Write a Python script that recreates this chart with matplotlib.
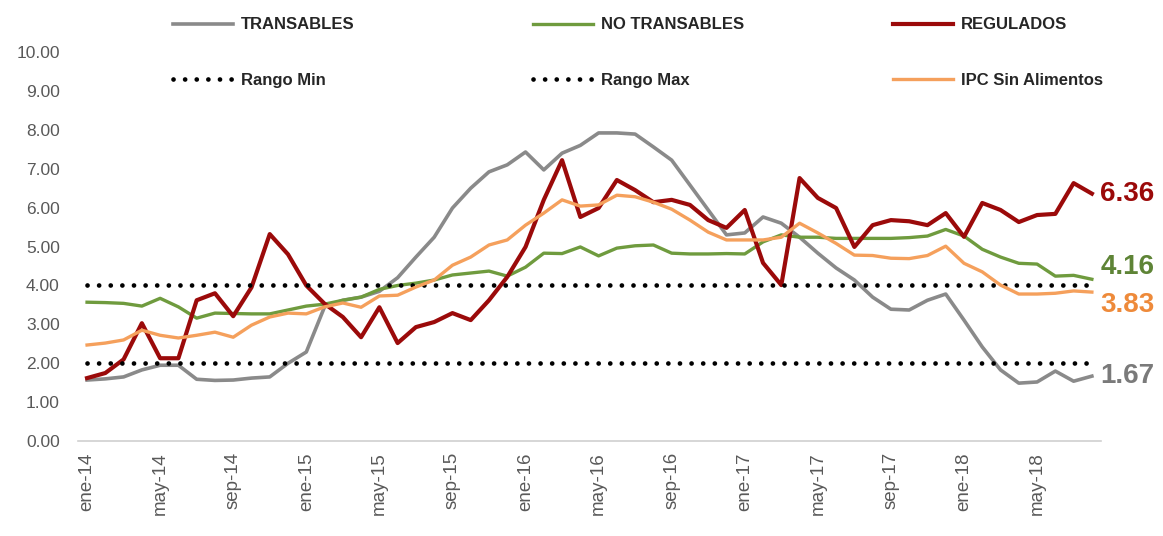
import matplotlib
import matplotlib.pyplot as plt

matplotlib.use("Agg")

# monthly series, ene-14 .. ago-18
transables = [1.57, 1.60, 1.65, 1.83, 1.95, 1.95, 1.59, 1.56, 1.57, 1.62, 1.65, 2.00, 2.29, 3.45,
              3.62, 3.70, 3.85, 4.20, 4.73, 5.24, 5.99, 6.50, 6.92, 7.10, 7.43, 6.97, 7.40, 7.60,
              7.92, 7.92, 7.89, 7.56, 7.22, 6.58, 5.94, 5.30, 5.35, 5.76, 5.60, 5.24, 4.83, 4.45,
              4.14, 3.70, 3.39, 3.37, 3.62, 3.78, 3.11, 2.42, 1.83, 1.49, 1.52, 1.80, 1.54, 1.67]
no_transables = [3.57, 3.56, 3.54, 3.47, 3.67, 3.45, 3.16, 3.29, 3.28, 3.27, 3.27, 3.37, 3.47, 3.52,
                 3.62, 3.70, 3.90, 4.00, 4.06, 4.14, 4.27, 4.32, 4.37, 4.24, 4.47, 4.83, 4.82, 4.99,
                 4.76, 4.96, 5.02, 5.04, 4.83, 4.81, 4.81, 4.82, 4.81, 5.12, 5.30, 5.24, 5.24, 5.21,
                 5.21, 5.21, 5.21, 5.23, 5.27, 5.44, 5.27, 4.93, 4.73, 4.57, 4.55, 4.24, 4.26, 4.16]
regulados = [1.62, 1.75, 2.10, 3.03, 2.13, 2.13, 3.62, 3.80, 3.21, 3.95, 5.32, 4.80, 4.00, 3.53,
             3.19, 2.67, 3.44, 2.52, 2.93, 3.06, 3.29, 3.11, 3.62, 4.22, 4.99, 6.20, 7.22, 5.76,
             5.99, 6.71, 6.45, 6.14, 6.20, 6.07, 5.68, 5.48, 5.94, 4.58, 4.01, 6.76, 6.25, 5.99,
             4.99, 5.55, 5.68, 5.65, 5.55, 5.86, 5.25, 6.12, 5.94, 5.63, 5.81, 5.84, 6.63, 6.36]
ipc_sin_alimentos = [2.47, 2.52, 2.60, 2.85, 2.72, 2.65, 2.72, 2.80, 2.67, 2.98, 3.19, 3.29, 3.27, 3.45,
                     3.55, 3.44, 3.73, 3.75, 3.96, 4.14, 4.52, 4.73, 5.04, 5.17, 5.55, 5.86, 6.20, 6.04,
                     6.07, 6.32, 6.28, 6.14, 5.96, 5.68, 5.37, 5.17, 5.17, 5.17, 5.24, 5.60, 5.35, 5.08,
                     4.78, 4.77, 4.70, 4.69, 4.77, 5.01, 4.57, 4.35, 4.01, 3.78, 3.78, 3.80, 3.86, 3.83]
RANGO_MIN = 2.0
RANGO_MAX = 4.0

tick_labels = ["ene-14", "may-14", "sep-14", "ene-15", "may-15", "sep-15", "ene-16",
               "may-16", "sep-16", "ene-17", "may-17", "sep-17", "ene-18", "may-18"]
y_ticks = [0, 1, 2, 3, 4, 5, 6, 7, 8, 9, 10]

GRAY = "#8a8a8a"
GREEN = "#6f9b3e"
RED = "#9b0a0a"
ORANGE = "#f5a05c"
TICK = "#595959"
DOTS = (0, (0.01, 2.45))

plt.rcParams["font.family"] = ["Liberation Sans", "DejaVu Sans"]

n = len(regulados)
x = list(range(n))

fig = plt.figure(figsize=(11.63, 5.36), dpi=100)
ax = fig.add_axes([0.067, 0.177, 0.8797, 0.726])

l_tr, = ax.plot(x, transables, color=GRAY, lw=2.6, solid_joinstyle="round")
l_nt, = ax.plot(x, no_transables, color=GREEN, lw=2.4, solid_joinstyle="round")
l_rg, = ax.plot(x, regulados, color=RED, lw=3.0, solid_joinstyle="round")
l_min, = ax.plot(x, [RANGO_MIN] * n, color="black", lw=3.4, linestyle=DOTS, dash_capstyle="round")
l_max, = ax.plot(x, [RANGO_MAX] * n, color="black", lw=3.4, linestyle=DOTS, dash_capstyle="round")
l_ipc, = ax.plot(x, ipc_sin_alimentos, color=ORANGE, lw=2.4, solid_joinstyle="round")

ax.set_xlim(-0.5, n - 0.5)
ax.set_ylim(0, 10)
ax.set_yticks(y_ticks)
ax.set_yticklabels([f"{v:.2f}" for v in y_ticks])
ax.set_xticks(x[::4])
ax.set_xticklabels(tick_labels, rotation=90)
ax.tick_params(axis="y", length=0, pad=13, labelsize=12.5, labelcolor=TICK)
ax.tick_params(axis="x", length=0, pad=8, labelsize=13.5, labelcolor=TICK)
for side in ("top", "right", "left"):
    ax.spines[side].set_visible(False)
ax.spines["bottom"].set_color("#d0d0d0")
ax.spines["bottom"].set_linewidth(1.2)

# end-of-series value labels
end_labels = [
    (regulados, RED, 0),
    (no_transables, "#5e8436", 9),
    (ipc_sin_alimentos, "#ee8a3a", -9),
    (transables, "#7a7a7a", 0),
]
for series, color, dy in end_labels:
    ax.annotate(f"{series[-1]:.2f}", xy=(n - 1, series[-1]), xytext=(6, dy),
                textcoords="offset points", ha="left", va="center",
                fontsize=20, fontweight="bold", color=color, annotation_clip=False)

# legend: three columns, placed one by one
groups = [
    ([l_tr, l_min], ["TRANSABLES", "Rango Min"], 165),
    ([l_nt, l_max], ["NO TRANSABLES", "Rango Max"], 525),
    ([l_rg, l_ipc], ["REGULADOS", "IPC Sin Alimentos"], 885),
]
for handles, labels, px in groups:
    fig.legend(handles, labels, loc="upper left", bbox_to_anchor=(px / 1163, 1 - 9 / 536),
               frameon=False, borderpad=0, handlelength=3.6, handletextpad=0.45,
               labelspacing=2.45, prop={"size": 12, "weight": "bold"}, labelcolor="#262626")

fig.savefig("out.png", dpi=100, facecolor="white")
